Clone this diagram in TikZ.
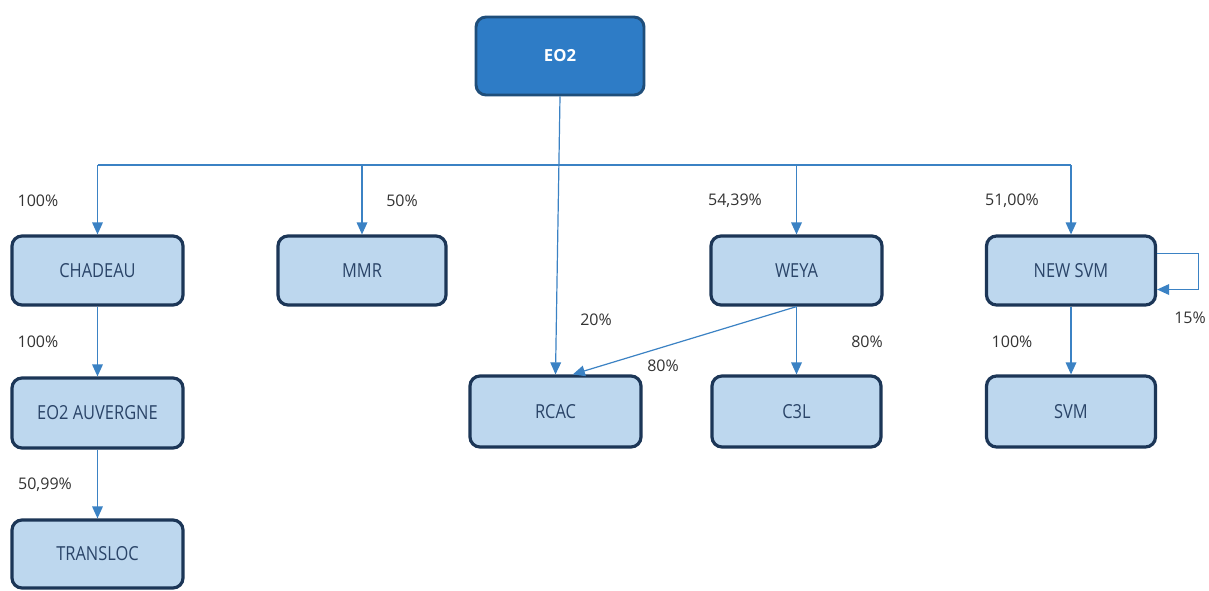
\documentclass[tikz,border=0pt]{standalone}
\usepackage{fontspec}
\setmainfont{Open Sans}
\newfontfamily\boxfont[FakeStretch=0.85]{Open Sans}
\usetikzlibrary{arrows.meta}
\definecolor{lightfill}{HTML}{BDD7EE}
\definecolor{boxborder}{HTML}{1C3657}
\definecolor{boxtext}{HTML}{2A4468}
\definecolor{topfill}{HTML}{2E7CC6}
\definecolor{topborder}{HTML}{1F4E7A}
\definecolor{arrowcol}{HTML}{3B82C4}
\definecolor{labelcol}{HTML}{333333}
\tikzset{
  box/.style={draw=boxborder, fill=lightfill, line width=2.4pt, rounded corners=7.5pt,
    text=boxtext, font=\boxfont\fontsize{14.5}{16}\selectfont, inner sep=0pt},
  topbox/.style={draw=topborder, fill=topfill, line width=2.2pt, rounded corners=7.5pt,
    text=white, font=\bfseries\fontsize{12.5}{15}\selectfont, inner sep=0pt},
  arr/.style={draw=arrowcol, line width=0.9pt, -{Triangle[length=9pt,width=8pt]}},
  plainline/.style={draw=arrowcol, line width=0.9pt},
  pct/.style={text=labelcol, font=\fontsize{12}{14}\selectfont, inner sep=0pt}
}
\begin{document}
\begin{tikzpicture}[x=0.75pt,y=-0.75pt]
\useasboundingbox[fill=white] (0,0) rectangle (1209,590);
% nodes
\node[topbox, minimum width={168*0.75pt}, minimum height={78*0.75pt}] (eo2) at (560,56) {EO2};
\node[box, minimum width={171*0.75pt}, minimum height={69*0.75pt}] (chadeau) at (97.5,270.5) {CHADEAU};
\node[box, minimum width={168*0.75pt}, minimum height={69*0.75pt}] (mmr) at (362,270.5) {MMR};
\node[box, minimum width={171*0.75pt}, minimum height={69*0.75pt}] (weya) at (796.5,270.5) {WEYA};
\node[box, minimum width={169*0.75pt}, minimum height={69*0.75pt}] (newsvm) at (1071,270.5) {NEW SVM};
\node[box, minimum width={171*0.75pt}, minimum height={70*0.75pt}] (auvergne) at (97.5,413) {EO2 AUVERGNE};
\node[box, minimum width={171*0.75pt}, minimum height={71*0.75pt}] (rcac) at (555.5,411.5) {RCAC};
\node[box, minimum width={169*0.75pt}, minimum height={71*0.75pt}] (c3l) at (796.5,411.5) {C3L};
\node[box, minimum width={169*0.75pt}, minimum height={71*0.75pt}] (svm) at (1071,411.5) {SVM};
\node[box, minimum width={171*0.75pt}, minimum height={68*0.75pt}] (transloc) at (97.5,554) {TRANSLOC};
% bus
\coordinate (bus) at (560,165);
\draw[plainline] (chadeau.north |- bus) -- (newsvm.north |- bus);
\draw[arr] (eo2.south) -- (rcac.north);
\draw[arr] (chadeau.north |- bus) -- (chadeau.north);
\draw[arr] (mmr.north |- bus) -- (mmr.north);
\draw[arr] (weya.north |- bus) -- (weya.north);
\draw[arr] (newsvm.north |- bus) -- (newsvm.north);
\draw[arr] (chadeau) -- (auvergne);
\draw[arr] (auvergne) -- (transloc);
\draw[arr] (weya.south) -- ([xshift=13pt]rcac.north);
\draw[arr] (weya) -- (c3l);
\draw[arr] (newsvm) -- (svm);
\draw[arr] ([yshift=13pt]newsvm.east) -- ++(41,0) |- ([yshift={-19*0.75pt}]newsvm.east);
% labels
\node[pct] (l1) at (38,201) {100\%};
\node[pct] (l2) at (402,201) {50\%};
\node[pct] (l3) at (735,201) {54,39\%};
\node[pct] (l4) at (1012,201) {51,00\%};
\node[pct] (l5) at (38,342) {100\%};
\node[pct] (l6) at (596,320) {20\%};
\node[pct] (l7) at (663,366) {80\%};
\node[pct] (l8) at (867,342) {80\%};
\node[pct] (l9) at (1190,318) {15\%};
\node[pct] (l10) at (1012,342) {100\%};
\node[pct] (l11) at (45,485) {50,99\%};
\end{tikzpicture}
\end{document}
